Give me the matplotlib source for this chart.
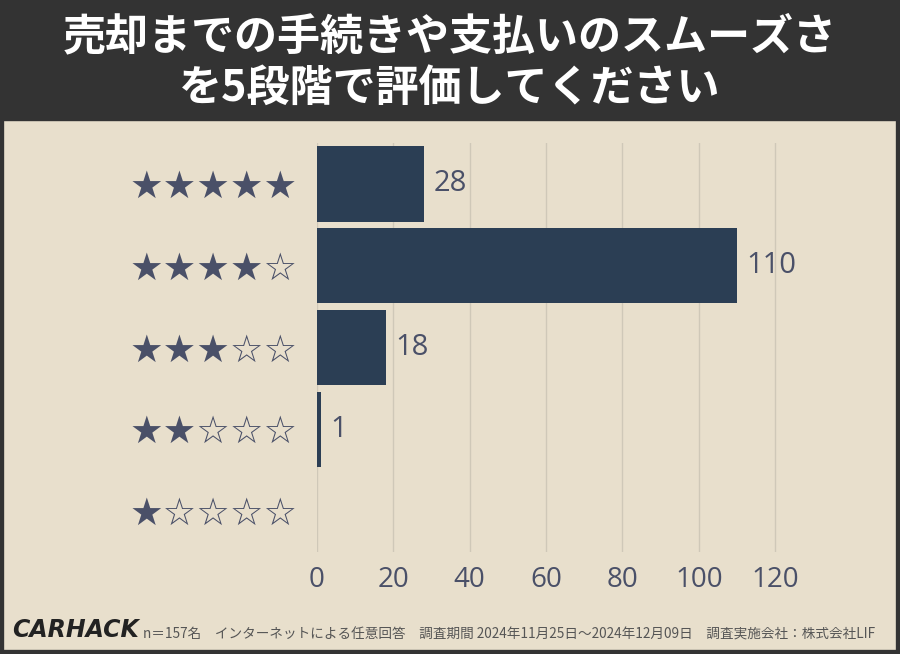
import matplotlib
matplotlib.use("Agg")
import matplotlib.pyplot as plt
from matplotlib.patches import Rectangle

labels = ["★★★★★", "★★★★☆", "★★★☆☆", "★★☆☆☆", "★☆☆☆☆"]
counts = [28, 110, 18, 1, 0]
xticks = [0, 20, 40, 60, 80, 100, 120]
title = "売却までの手続きや支払いのスムーズさ\nを5段階で評価してください"
footer = "n＝157名　インターネットによる任意回答　調査期間 2024年11月25日～2024年12月09日　調査実施会社：株式会社LIF"

BG = "#E8DFCC"
BAR = "#2B3E54"
TXT = "#4A5068"
JP = "Noto Sans CJK JP"

W, H = 900, 654
fig = plt.figure(figsize=(W / 100, H / 100), dpi=100, facecolor=BG)

# dark title band and frame
fig.patches.append(Rectangle((0, 1 - 120 / H), 1, 120 / H, transform=fig.transFigure,
                             color="#333333", zorder=0))
fig.patches.append(Rectangle((0, 0), 1, 1, transform=fig.transFigure, fill=False,
                             edgecolor="#333333", lw=6, zorder=5))
fig.text(0.5, 1 - 62 / H, title, ha="center", va="center", color="white",
         fontsize=31, fontweight="bold", family=JP, linespacing=1.2)

ax = fig.add_axes([317 / W, 1 - 552 / H, (800 - 317) / W, (552 - 143) / H])
ax.set_facecolor(BG)
y = list(range(len(counts)))
ax.barh(y, counts, height=0.92, color=BAR, zorder=2)
for yi, c in zip(y, counts):
    if c > 0:
        ax.text(c + 2.5, yi, str(c), va="center", ha="left", fontsize=21,
                color=TXT, family="Open Sans")
ax.set_ylim(4.5, -0.5)
ax.set_xlim(0, 126.5)
ax.set_xticks(xticks)
ax.set_xticklabels([str(t) for t in xticks], fontsize=20, color=TXT, family="Open Sans")
ax.set_yticks(y)
ax.set_yticklabels(labels, fontsize=27, color=TXT, family="DejaVu Sans")
ax.tick_params(length=0, pad=14)
ax.tick_params(axis="x", pad=10)
ax.grid(axis="x", color="#CFC8B8", lw=1, zorder=0)
for s in ax.spines.values():
    s.set_visible(False)

fig.text(12 / W, 1 - 630 / H, "CARHACK", fontsize=17, fontweight="bold", style="italic",
         color="#222222", va="center", ha="left", family="DejaVu Sans")
fig.text(143 / W, 1 - 635 / H, footer, fontsize=9.8, color="#555555", va="center",
         ha="left", family=JP)

fig.savefig("out.png", dpi=100, facecolor=BG)
